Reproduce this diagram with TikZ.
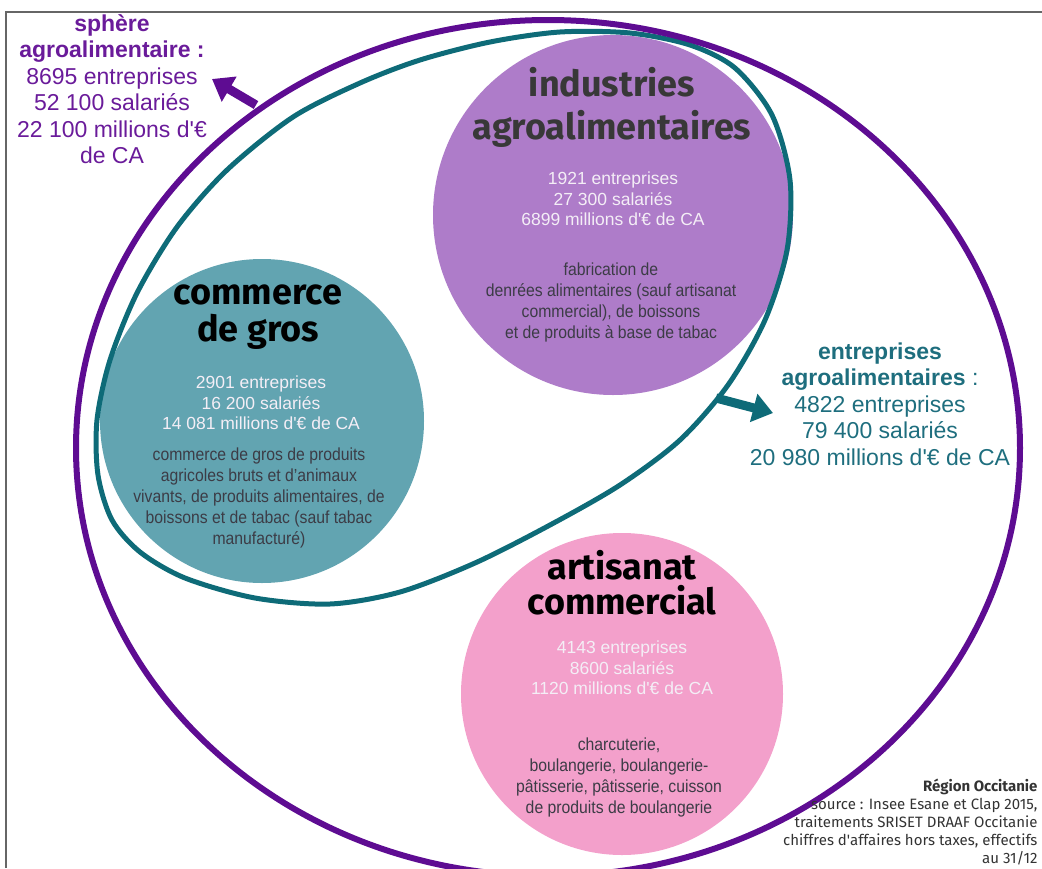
\documentclass[tikz,border=0pt]{standalone}
\usepackage{fontspec}
\setmainfont{Liberation Sans}
\newfontfamily\titlefont{Fira Sans}
\newfontfamily\condfont[FakeStretch=0.9]{Liberation Sans}
\newfontfamily\srcfont{Fira Sans}
\usetikzlibrary{arrows.meta}

\definecolor{sphere}{HTML}{5E0C92}
\definecolor{spheretext}{HTML}{6A1B9A}
\definecolor{agro}{HTML}{0E6B78}
\definecolor{agrotext}{HTML}{1E6E7E}
\definecolor{iaafill}{HTML}{AE7CC9}
\definecolor{grosfill}{HTML}{62A4B1}
\definecolor{artfill}{HTML}{F3A0CB}
\definecolor{figtext}{HTML}{F4EEF6}
\definecolor{desctext}{HTML}{3C3C46}
\definecolor{frame}{HTML}{666666}

\newcommand{\apos}{\textquotesingle}

\begin{document}
\begin{tikzpicture}
    [x=1pt, y=-1pt,
     bubble/.style={circle, inner sep=0pt},
     title/.style={font=\titlefont\bfseries\fontsize{36}{#1}\selectfont, align=center},
     figures/.style={text=figtext, font=\fontsize{17.5}{20.5}\selectfont, align=center},
     descr/.style={text=desctext, font=\condfont\fontsize{17.5}{21}\selectfont, align=center},
     summary/.style={font=\fontsize{23}{26.5}\selectfont, align=center},
     fat/.style={line width=9pt, -{Triangle[width=28pt,length=20pt]}}]
    \useasboundingbox (0,0) rectangle (1042,868);
    \draw[frame, line width=2pt] (6,868) -- (6,12) -- (1045,12);

    % the three sectors
    \node[bubble, fill=iaafill, minimum size=360pt] (iaa) at (613,215) {};
    \node[bubble, fill=grosfill, minimum size=324pt] (gros) at (262,421) {};
    \node[bubble, fill=artfill, minimum size=322pt] (art) at (622,694) {};

    % entreprises agroalimentaires
    \draw[agro, line width=5pt] plot[smooth cycle] coordinates {
      (97,420) (98,475) (112,520) (140,552) (185,578) (255,598) (330,604)
      (400,592) (475,563) (550,525) (620,485) (680,440) (728,385) (765,320)
      (787,250) (790,180) (772,115) (735,68) (690,45) (630,33) (560,32)
      (490,42) (420,60) (360,83) (293,117) (227,170) (177,227) (137,293)
      (110,360)};

    % sphere agroalimentaire
    \draw[sphere, line width=6pt] (548,448) ellipse [x radius=472pt, y radius=428pt];

    \node[title=43, text=black!78] (iaatitle) at (612,107) {industries\\agroalimentaires};
    \node[figures] (iaafig) at (613,199) {1921 entreprises\\27 300 salariés\\6899 millions d\apos€ de CA};
    \node[descr] (iaadesc) at (611,302) {fabrication de\\denrées alimentaires (sauf artisanat\\commercial), de boissons\\et de produits à base de tabac};

    \node[title=37, text=black] (grostitle) at (258,317) {commerce\\de gros};
    \node[figures] (grosfig) at (261,403) {2901 entreprises\\16 200 salariés\\14 081 millions d\apos€ de CA};
    \node[descr] (grosdesc) at (259,498) {commerce de gros de produits\\agricoles bruts et d’animaux\\vivants, de produits alimentaires, de\\boissons et de tabac (sauf tabac\\manufacturé)};

    \node[title=35, text=black] (arttitle) at (622,583) {artisanat\\commercial};
    \node[figures] (artfig) at (622,668) {4143 entreprises\\8600 salariés\\1120 millions d\apos€ de CA};
    \node[descr] (artdesc) at (619,777) {charcuterie,\\boulangerie, boulangerie-\\pâtisserie, pâtisserie, cuisson\\de produits de boulangerie};

    % totals
    \node[summary, text=spheretext] (spherelbl) at (112,89)
      {\textbf{sphère}\\\textbf{agroalimentaire :}\\8695 entreprises\\52 100 salariés\\22 100 millions d\apos€\\de CA};
    \node[summary, text=agrotext] (agrolbl) at (880,404)
      {\textbf{entreprises}\\\textbf{agroalimentaires} :\\4822 entreprises\\79 400 salariés\\20 980 millions d\apos€ de CA};

    \coordinate (spherefrom) at (256,105);
    \coordinate (spheretip) at (212,79);
    \draw[fat, sphere] (spherefrom) -- (spheretip);
    \coordinate (agrofrom) at (716,398);
    \coordinate (agrotip) at (773,413);
    \draw[fat, agro] (agrofrom) -- (agrotip);

    \node[anchor=east, align=right, text=black!80, font=\srcfont\fontsize{15}{18}\selectfont] (source) at (1041,822)
      {\textbf{Région Occitanie}\\source : Insee Esane et Clap 2015,\\traitements SRISET DRAAF Occitanie\\chiffres d\apos affaires hors taxes, effectifs\\au 31/12};
\end{tikzpicture}
\end{document}
